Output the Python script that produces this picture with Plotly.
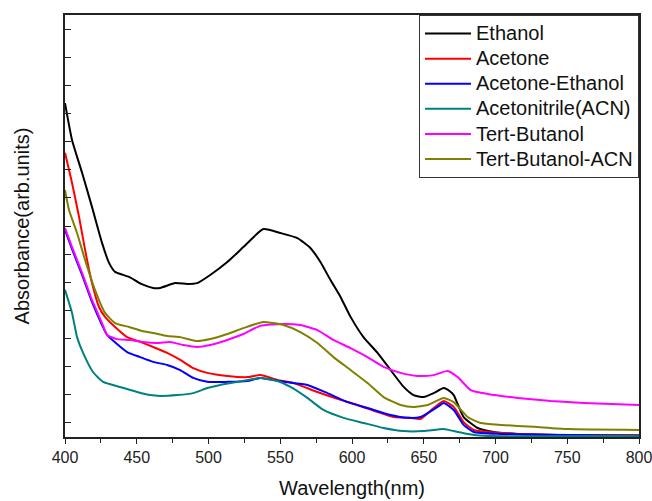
import plotly.graph_objects as go

# Wavelength (nm) and absorbance (arb. units)
eth_wl = [400, 404.9, 411.9, 418.8, 425.8, 430.7, 434.9, 444.7, 453.1, 461.4, 466.3, 476.8, 485.2, 492.1, 501.2, 513.1, 524.3, 538.2, 550.1, 562.0, 571.0, 578.0, 585.0, 592.0, 599.0, 608.0, 617.8, 626.9, 636.0, 642.9, 649.9, 656.9, 663.9, 668.8, 670.9, 677.8, 687.6, 698.8, 715.5, 750.4, 800]
eth_ab = [11.87, 10.56, 9.39, 8.18, 6.90, 6.19, 5.87, 5.69, 5.44, 5.30, 5.30, 5.47, 5.44, 5.47, 5.76, 6.22, 6.75, 7.39, 7.25, 7.07, 6.72, 6.22, 5.58, 4.98, 4.27, 3.55, 2.99, 2.38, 1.78, 1.49, 1.42, 1.56, 1.74, 1.60, 1.49, 0.71, 0.32, 0.18, 0.11, 0.07, 0.05]

ace_wl = [400, 404.9, 409.8, 414.0, 418.8, 423.7, 427.9, 434.9, 443.3, 452.4, 461.4, 471.2, 480.3, 489.4, 499.1, 513.1, 527.1, 536.1, 548.0, 559.2, 575.9, 592.0, 603.8, 617.8, 629.0, 640.8, 647.8, 656.9, 663.9, 670.9, 677.8, 684.8, 703.7, 750.4, 800]
ace_ab = [10.10, 9.03, 7.82, 6.65, 5.47, 4.62, 4.27, 3.91, 3.55, 3.38, 3.20, 2.99, 2.74, 2.45, 2.28, 2.17, 2.13, 2.20, 2.03, 1.92, 1.60, 1.32, 1.14, 0.89, 0.71, 0.68, 0.64, 1.03, 1.28, 1.07, 0.53, 0.25, 0.14, 0.07, 0.07]

aet_wl = [400, 404.9, 411.9, 418.8, 425.8, 429.3, 443.3, 452.4, 461.4, 471.2, 480.3, 489.4, 499.1, 513.1, 527.1, 536.1, 552.2, 568.9, 582.9, 596.9, 610.8, 626.9, 638.7, 647.8, 659.7, 663.9, 670.9, 677.8, 684.8, 703.7, 800]
aet_ab = [7.36, 6.68, 5.76, 4.80, 3.98, 3.63, 3.02, 2.84, 2.67, 2.56, 2.38, 2.10, 1.96, 1.96, 1.99, 2.10, 1.96, 1.85, 1.56, 1.24, 1.03, 0.78, 0.68, 0.71, 1.07, 1.21, 0.96, 0.43, 0.18, 0.11, 0.04]

acn_wl = [400, 404.9, 408.4, 412.6, 419.5, 426.5, 438.4, 450.3, 459.3, 466.3, 478.2, 489.4, 499.1, 508.2, 520.1, 531.2, 536.1, 548.0, 557.1, 568.9, 580.1, 594.1, 608.0, 622.0, 636.0, 649.9, 663.9, 670.9, 680.6, 691.8, 800]
acn_ab = [5.23, 4.41, 3.55, 2.99, 2.31, 1.96, 1.78, 1.60, 1.49, 1.46, 1.49, 1.56, 1.74, 1.85, 1.96, 2.06, 2.10, 1.99, 1.78, 1.39, 0.96, 0.68, 0.50, 0.32, 0.21, 0.21, 0.28, 0.21, 0.11, 0.04, 0.04]

tbu_wl = [400, 404.9, 411.9, 418.8, 425.8, 429.3, 436.3, 445.4, 454.5, 464.2, 473.3, 482.4, 492.1, 501.2, 513.1, 524.3, 536.1, 552.2, 564.0, 575.9, 587.1, 599.0, 610.8, 622.0, 633.9, 645.7, 656.9, 666.7, 673.6, 682.7, 694.6, 715.5, 738.6, 761.6, 800]
tbu_ab = [7.43, 6.75, 5.83, 4.87, 4.05, 3.63, 3.48, 3.45, 3.38, 3.34, 3.38, 3.27, 3.20, 3.27, 3.45, 3.66, 3.95, 4.02, 3.98, 3.80, 3.45, 3.16, 2.84, 2.49, 2.28, 2.17, 2.20, 2.35, 2.13, 1.67, 1.53, 1.39, 1.28, 1.21, 1.14]

tba_wl = [400, 402.8, 408.4, 414.0, 420.9, 427.9, 434.9, 444.7, 453.8, 461.4, 471.2, 480.3, 492.1, 501.2, 513.1, 524.3, 538.2, 552.2, 564.0, 575.9, 587.1, 599.0, 610.8, 622.0, 633.9, 642.9, 652.7, 663.9, 670.9, 680.6, 689.7, 703.7, 726.7, 750.4, 800]
tba_ab = [8.78, 8.07, 7.25, 6.29, 5.23, 4.41, 4.05, 3.91, 3.77, 3.70, 3.59, 3.55, 3.41, 3.48, 3.66, 3.87, 4.09, 3.98, 3.73, 3.34, 2.84, 2.38, 1.92, 1.42, 1.14, 1.07, 1.14, 1.39, 1.24, 0.71, 0.50, 0.43, 0.36, 0.28, 0.25]

names = ["Ethanol", "Acetone", "Acetone-Ethanol", "Acetonitrile(ACN)", "Tert-Butanol", "Tert-Butanol-ACN"]
colors = ["#000000", "#FF0000", "#0000FF", "#008080", "#FF00FF", "#808000"]
series = [(eth_wl, eth_ab), (ace_wl, ace_ab), (aet_wl, aet_ab), (acn_wl, acn_ab), (tbu_wl, tbu_ab), (tba_wl, tba_ab)]

x_ticks = [400, 450, 500, 550, 600, 650, 700, 750, 800]
x_minor = [425, 475, 525, 575, 625, 675, 725, 775]
y_ticks = [0.5 + i for i in range(15)]

fig = go.Figure()
for i, ((wx, wy), name, col) in enumerate(zip(series, names, colors)):
    fig.add_trace(go.Scatter(x=wx, y=wy, mode="lines",
                             name=f"<span style='font-size:20px'>{name}</span>",
                             legendgroup=f"g{i}",
                             line=dict(color=col, width=2, shape="spline", smoothing=0.5)))

font_family = "Arial, Liberation Sans, sans-serif"
fig.update_layout(
    width=652, height=501,
    margin=dict(l=65, r=13, t=15, b=64, autoexpand=False),
    paper_bgcolor="white", plot_bgcolor="white",
    font=dict(family=font_family, size=16, color="#222222"),
    showlegend=True,
    legend=dict(x=1, y=1, xanchor="right", yanchor="top",
                bgcolor="white", bordercolor="#333333", borderwidth=1,
                font=dict(family=font_family, size=17, color="#111111"),
                tracegroupgap=0, itemwidth=46),
    xaxis=dict(range=[400, 800], tickmode="array", tickvals=x_ticks,
               ticks="outside", ticklen=5, tickwidth=1.3, tickcolor="#222222",
               minor=dict(tickvals=x_minor, ticks="outside", ticklen=4, tickwidth=1.3, tickcolor="#222222"),
               showline=True, linecolor="#222222", linewidth=1.5, mirror=True,
               showgrid=False, zeroline=False, automargin=False,
               ticklabeloverflow="allow",
               tickfont=dict(size=16, color="#222222"),
               title=dict(text="Wavelength(nm)", font=dict(size=20, color="#111111"), standoff=16)),
    yaxis=dict(range=[0, 15], tickmode="array", tickvals=y_ticks, showticklabels=False,
               ticks="inside", ticklen=6, tickwidth=1.3, tickcolor="#222222",
               showline=True, linecolor="#222222", linewidth=1.5, mirror=True,
               showgrid=False, zeroline=False, automargin=False,
               title=dict(text="Absorbance(arb.units)", font=dict(size=20, color="#111111"), standoff=28)),
)

fig.write_html("out.html")
